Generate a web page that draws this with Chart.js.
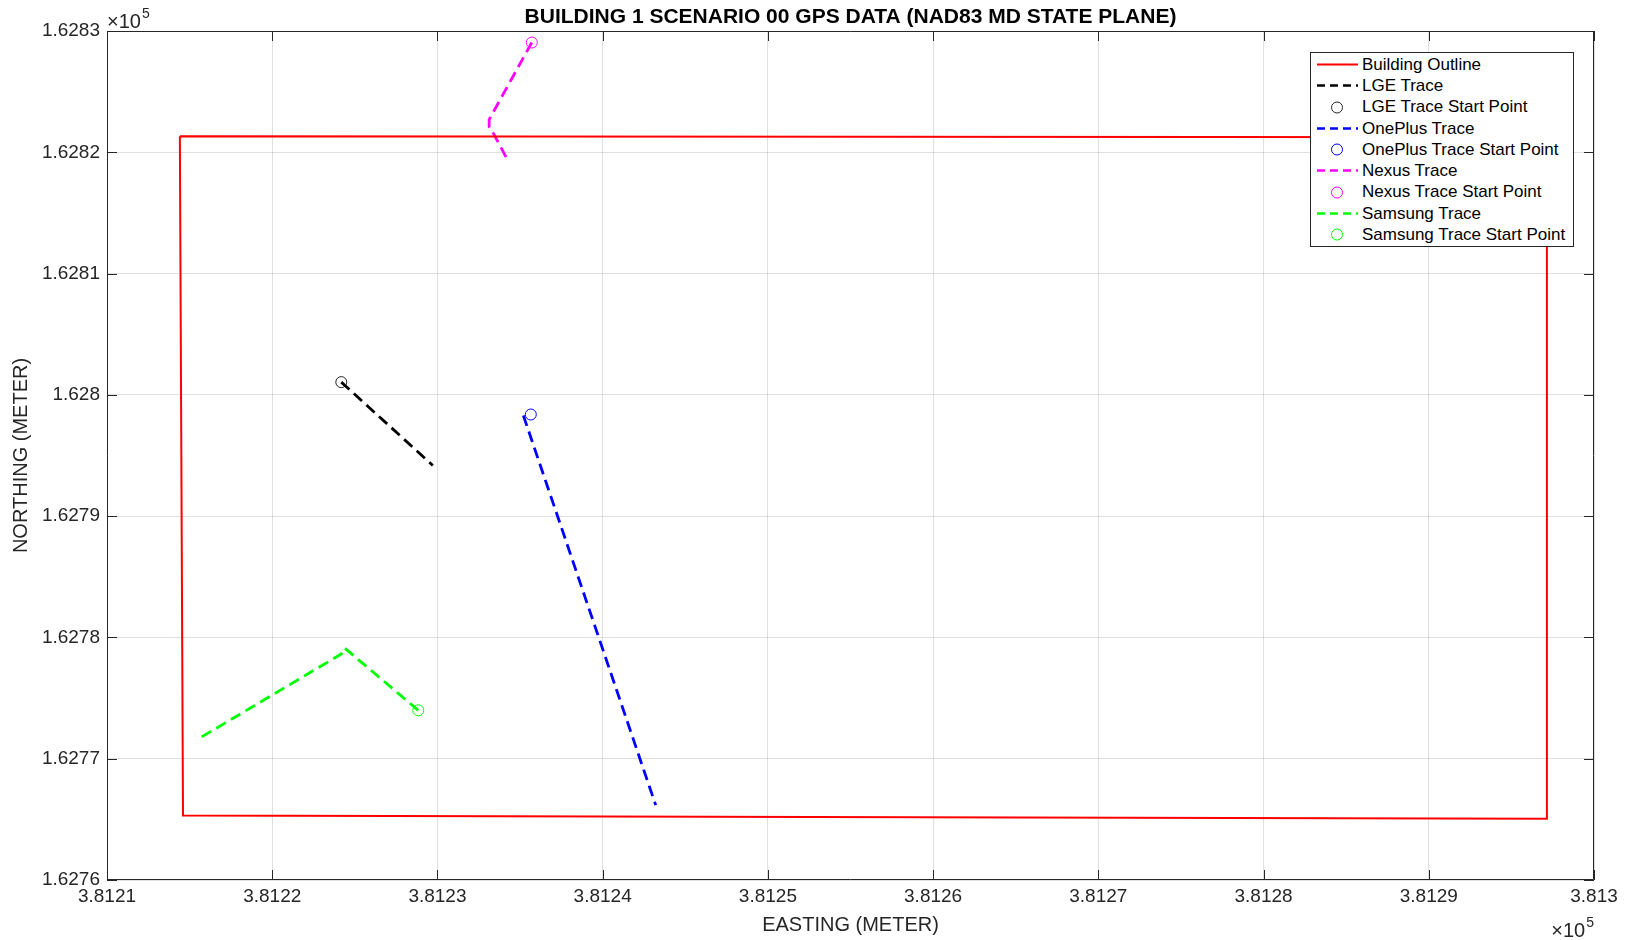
<!DOCTYPE html>
<html>
<head>
<meta charset="utf-8">
<script src="https://cdn.jsdelivr.net/npm/chart.js@4"></script>
<style>
  body { margin: 0; background: #fff; }
  #wrap { position: relative; width: 1633px; height: 940px; }
  #legend {
    position: absolute; left: 1310px; top: 52px; width: 264px; height: 195px;
    box-sizing: border-box; border: 1px solid #262626; background: #fff;
    font-family: "Liberation Sans", Arial, sans-serif; font-size: 17px; color: #000;
    padding-top: 1px;
  }
  .row { position: relative; height: 21.3px; }
  .row svg { position: absolute; left: 0; top: 0; }
  .row span { position: absolute; left: 51px; top: 50%; transform: translateY(-50%); white-space: nowrap; }
</style>
</head>
<body>
<div id="wrap">
  <canvas id="gpsChart" width="1633" height="940"></canvas>
  <div id="legend"></div>
</div>
<script>
// BUILDING OUTLINE (easting / northing, meters)
const outlineX = [381214.41, 381297.15, 381297.15, 381214.60, 381214.41];
const outlineY = [162821.32, 162821.24, 162765.05, 162765.31, 162821.32];

// LGE
const lgeX = [381224.18, 381229.72];
const lgeY = [162801.05, 162794.18];
const lgeStart = [381224.18, 162801.05];

// ONEPLUS
const oneplusX = [381235.20, 381243.21];
const oneplusY = [162798.30, 162766.17];
const oneplusStart = [381235.65, 162798.38];

// NEXUS
const nexusX = [381235.71, 381233.13, 381233.13, 381233.38, 381234.32];
const nexusY = [162829.05, 162822.70, 162822.10, 162821.58, 162819.18];
const nexusStart = [381235.71, 162829.05];

// SAMSUNG
const samsungX = [381228.84, 381224.37, 381224.18, 381215.67];
const samsungY = [162773.99, 162779.14, 162778.63, 162771.75];
const samsungStart = [381228.84, 162773.99];

// TICKS
const xTicks = [381210, 381220, 381230, 381240, 381250, 381260, 381270, 381280, 381290, 381300];
const yTicks = [162760, 162770, 162780, 162790, 162800, 162810, 162820, 162830];

const TITLE = "BUILDING 1 SCENARIO 00 GPS DATA (NAD83 MD STATE PLANE)";
const FONT = "'Liberation Sans', Arial, sans-serif";
const AXIS = "#262626";

function pts(xs, ys) {
  return xs.map((x, i) => ({ x: x, y: ys[i] }));
}

function trace(label, xs, ys, color) {
  return {
    label: label, data: pts(xs, ys), showLine: true,
    borderColor: color, borderWidth: 2.8, borderDash: [11, 6],
    pointRadius: 0
  };
}

function startPoint(label, p, color) {
  return {
    label: label, data: [{ x: p[0], y: p[1] }], showLine: false,
    borderColor: color, backgroundColor: "rgba(0,0,0,0)",
    pointRadius: 5.5, borderWidth: 1, pointStyle: "circle"
  };
}

const datasets = [
  { label: "Building Outline", data: pts(outlineX, outlineY), showLine: true,
    borderColor: "#ff0000", borderWidth: 2, pointRadius: 0 },
  trace("LGE Trace", lgeX, lgeY, "#000000"),
  startPoint("LGE Trace Start Point", lgeStart, "#262626"),
  trace("OnePlus Trace", oneplusX, oneplusY, "#0000ff"),
  startPoint("OnePlus Trace Start Point", oneplusStart, "#0000ff"),
  trace("Nexus Trace", nexusX, nexusY, "#ff00ff"),
  startPoint("Nexus Trace Start Point", nexusStart, "#ff00ff"),
  trace("Samsung Trace", samsungX, samsungY, "#00ff00"),
  startPoint("Samsung Trace Start Point", samsungStart, "#00ff00")
];

// title over the axes, inside ticks, full box and the x10^5 exponents
const boxPlugin = {
  id: "box",
  afterDraw(chart) {
    const ctx = chart.ctx;
    const a = chart.chartArea;
    const xs = chart.scales.x, ys = chart.scales.y;
    ctx.save();
    ctx.strokeStyle = AXIS;
    ctx.lineWidth = 1;
    ctx.beginPath();
    ctx.rect(a.left + 0.5, a.top + 0.5, a.right - a.left - 1, a.bottom - a.top - 1);
    xTicks.forEach(v => {
      const px = Math.round(xs.getPixelForValue(v)) + 0.5;
      ctx.moveTo(px, a.bottom); ctx.lineTo(px, a.bottom - 10);
      ctx.moveTo(px, a.top); ctx.lineTo(px, a.top + 10);
    });
    yTicks.forEach(v => {
      const py = Math.round(ys.getPixelForValue(v)) + 0.5;
      ctx.moveTo(a.left, py); ctx.lineTo(a.left + 10, py);
      ctx.moveTo(a.right, py); ctx.lineTo(a.right - 10, py);
    });
    ctx.stroke();

    ctx.fillStyle = "#000";
    ctx.textAlign = "center";
    ctx.textBaseline = "middle";
    ctx.font = "bold 21px " + FONT;
    ctx.fillText(TITLE, (a.left + a.right) / 2, 17);

    ctx.fillStyle = AXIS;
    ctx.textBaseline = "alphabetic";
    ctx.textAlign = "left";
    ctx.font = "20px " + FONT;
    const w = ctx.measureText("\u00d710").width;
    ctx.font = "14px " + FONT;
    const w5 = ctx.measureText("5").width;

    ctx.font = "20px " + FONT;
    ctx.fillText("\u00d710", a.left, a.top - 3);
    ctx.font = "14px " + FONT;
    ctx.fillText("5", a.left + w + 1, a.top - 13);

    const x0 = a.right - w - w5 - 1;
    ctx.font = "20px " + FONT;
    ctx.fillText("\u00d710", x0, a.bottom + 57);
    ctx.font = "14px " + FONT;
    ctx.fillText("5", x0 + w + 1, a.bottom + 47);
    ctx.restore();
  }
};

function fmt(v) {
  return String(parseFloat((v / 1e5).toFixed(5)));
}

new Chart(document.getElementById("gpsChart"), {
  type: "scatter",
  data: { datasets: datasets },
  options: {
    responsive: false,
    animation: false,
    layout: { padding: { left: 0, right: 39, top: 31, bottom: 0 } },
    plugins: {
      legend: { display: false },
      tooltip: { enabled: false },
      title: { display: false }
    },
    scales: {
      x: {
        type: "linear", min: 381210, max: 381300,
        afterBuildTicks: s => { s.ticks = xTicks.map(v => ({ value: v })); },
        afterFit: s => { s.height = 60; },
        ticks: { color: AXIS, padding: 5, maxRotation: 0, autoSkip: false,
                 font: { family: FONT, size: 19 }, callback: v => fmt(v) },
        grid: { color: "rgba(38,38,38,0.15)", drawTicks: false },
        border: { display: false },
        title: { display: true, text: "EASTING (METER)", color: AXIS,
                 font: { family: FONT, size: 20, lineHeight: 1.2 },
                 padding: { top: 0, bottom: 3 } }
      },
      y: {
        type: "linear", min: 162760, max: 162830,
        afterBuildTicks: s => { s.ticks = yTicks.map(v => ({ value: v })); },
        afterFit: s => { s.width = 107; },
        ticks: { color: AXIS, padding: 7, autoSkip: false,
                 font: { family: FONT, size: 19 }, callback: v => fmt(v) },
        grid: { color: "rgba(38,38,38,0.15)", drawTicks: false },
        border: { display: false },
        title: { display: true, text: "NORTHING (METER)", color: AXIS,
                 font: { family: FONT, size: 20, lineHeight: 1.2 },
                 padding: { top: 9, bottom: 0 } }
      }
    }
  },
  plugins: [boxPlugin]
});

// LEGEND
const legend = document.getElementById("legend");
datasets.forEach(d => {
  const row = document.createElement("div");
  row.className = "row";
  let svg;
  if (d.showLine) {
    const dash = d.borderDash ? 'stroke-dasharray="8,5"' : "";
    svg = '<svg width="50" height="21"><line x1="6" y1="10.5" x2="47" y2="10.5" stroke="' +
      d.borderColor + '" stroke-width="' + Math.min(d.borderWidth, 2.5) + '" ' + dash + '/></svg>';
  } else {
    svg = '<svg width="50" height="21"><circle cx="26" cy="10.5" r="5.5" fill="none" stroke="' +
      d.borderColor + '" stroke-width="1"/></svg>';
  }
  row.innerHTML = svg + "<span>" + d.label + "</span>";
  legend.appendChild(row);
});
</script>
</body>
</html>
